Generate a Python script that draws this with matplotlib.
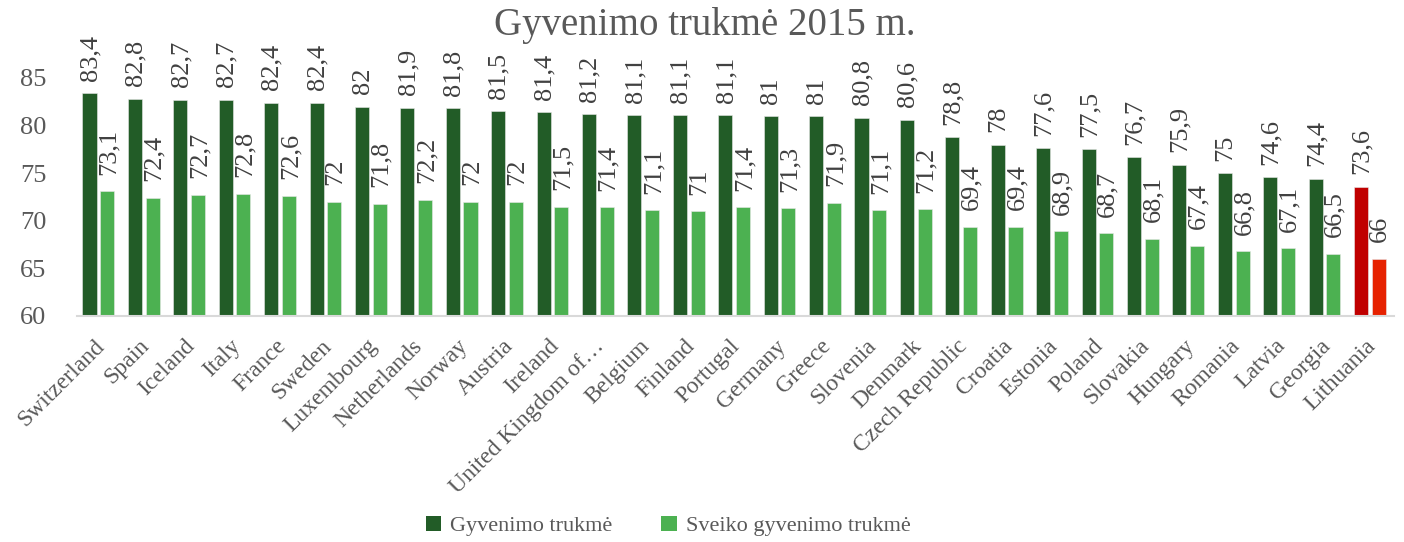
import matplotlib
matplotlib.use("Agg")
import matplotlib.pyplot as plt
import matplotlib.transforms as mtransforms
from matplotlib.patches import Patch
import numpy as np

countries = ["Switzerland", "Spain", "Iceland", "Italy", "France", "Sweden", "Luxembourg",
             "Netherlands", "Norway", "Austria", "Ireland", "United Kingdom of…", "Belgium",
             "Finland", "Portugal", "Germany", "Greece", "Slovenia", "Denmark", "Czech Republic",
             "Croatia", "Estonia", "Poland", "Slovakia", "Hungary", "Romania", "Latvia",
             "Georgia", "Lithuania"]
life = [83.4, 82.8, 82.7, 82.7, 82.4, 82.4, 82, 81.9, 81.8, 81.5, 81.4, 81.2, 81.1, 81.1,
        81.1, 81, 81, 80.8, 80.6, 78.8, 78, 77.6, 77.5, 76.7, 75.9, 75, 74.6, 74.4, 73.6]
healthy = [73.1, 72.4, 72.7, 72.8, 72.6, 72, 71.8, 72.2, 72, 72, 71.5, 71.4, 71.1, 71,
           71.4, 71.3, 71.9, 71.1, 71.2, 69.4, 69.4, 68.9, 68.7, 68.1, 67.4, 66.8, 67.1,
           66.5, 66]
yticks = [60, 65, 70, 75, 80, 85]
title = "Gyvenimo trukmė 2015 m."
series_names = ["Gyvenimo trukmė", "Sveiko gyvenimo trukmė"]

DARK = "#225C27"
LIGHT = "#4CB151"
RED_DARK = "#C00000"
RED_LIGHT = "#E62200"
TXT = "#595959"
LBL = "#404040"

plt.rcParams['font.family'] = ['Liberation Serif', 'DejaVu Serif']

fig = plt.figure(figsize=(14.04, 5.42), dpi=100)
ax = fig.add_axes([77/1404, (542-316)/542, (1394-77)/1404, (316-78)/542])

x = np.arange(len(countries))
w = 0.31
off = 0.195
shift = -0.03
c1 = [DARK] * len(countries)
c2 = [LIGHT] * len(countries)
c1[-1] = RED_DARK
c2[-1] = RED_LIGHT
ax.bar(x + shift - off, [v - 60 for v in life], w, bottom=60, color=c1,
       edgecolor='#E8E8E8', linewidth=0.4)
ax.bar(x + shift + off, [v - 60 for v in healthy], w, bottom=60, color=c2,
       edgecolor='#E8E8E8', linewidth=0.4)

def fmt(v):
    return ("%g" % v).replace('.', ',')

for xi, v in zip(x, life):
    ax.annotate(fmt(v), (xi + shift - off, v), xytext=(0.5, 9), textcoords='offset points',
                rotation=90, ha='center', va='bottom', fontsize=19, color=LBL,
                annotation_clip=False)
for xi, v in zip(x, healthy):
    ax.annotate(fmt(v), (xi + shift + off, v), xytext=(1, 12), textcoords='offset points',
                rotation=90, ha='center', va='bottom', fontsize=19, color=LBL,
                annotation_clip=False)

ax.set_xlim(-0.5, len(countries) - 0.5)
ax.set_ylim(60, 85)
ax.set_yticks(yticks)
ax.set_yticklabels([str(t) for t in yticks], fontsize=19, color=TXT)
ax.set_xticks(x)
ax.set_xticklabels(countries, rotation=45, ha='right', va='top', rotation_mode='anchor',
                   fontsize=17, color=TXT)
ax.tick_params(axis='both', length=0)
ax.tick_params(axis='y', pad=22)
ax.tick_params(axis='x', pad=14)
dx = mtransforms.ScaledTranslation(-6/100, 0, fig.dpi_scale_trans)
for lab in ax.get_xticklabels():
    lab.set_transform(lab.get_transform() + dx)
for s in ['top', 'right', 'left']:
    ax.spines[s].set_visible(False)
ax.spines['bottom'].set_color('#D9D9D9')
ax.spines['bottom'].set_linewidth(1.5)

fig.text(705/1404, 1 - 26/542, title, ha='center', va='center', fontsize=28, color=TXT)

handles = [Patch(facecolor=DARK), Patch(facecolor=LIGHT)]
fig.legend(handles, series_names, loc='center', bbox_to_anchor=(668/1404, 1 - 526/542), ncol=2,
           frameon=False, fontsize=16, handlelength=0.7, handleheight=0.7,
           handletextpad=0.4, columnspacing=2.2, labelcolor=TXT)

fig.savefig("out.png", dpi=100)
